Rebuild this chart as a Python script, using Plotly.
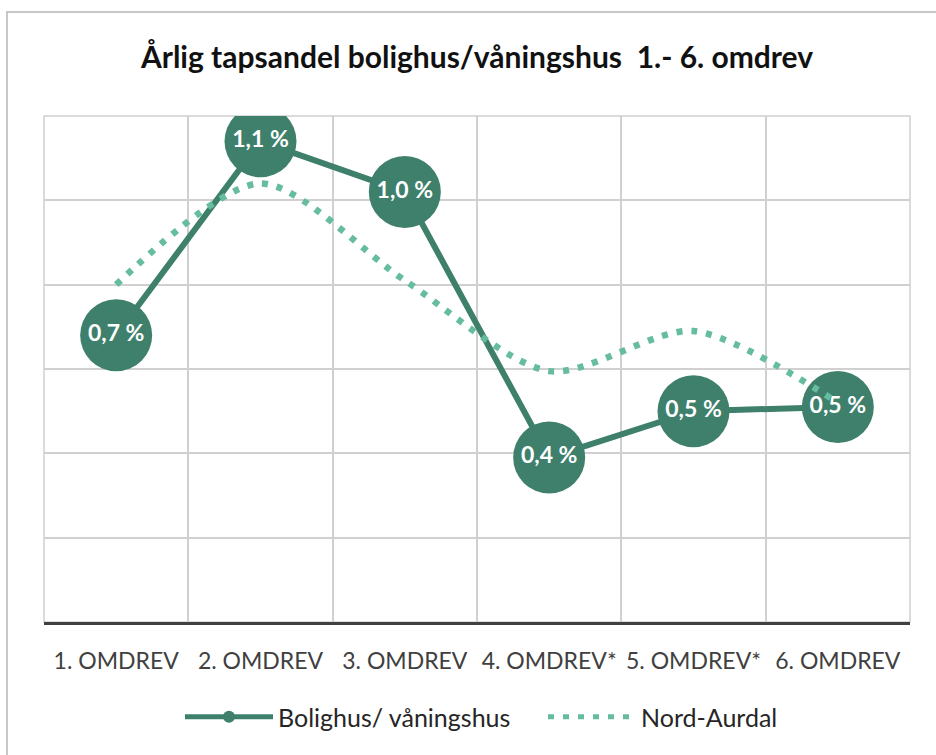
import plotly.graph_objects as go

categories = ["1. OMDREV", "2. OMDREV", "3. OMDREV", "4. OMDREV*", "5. OMDREV*", "6. OMDREV"]
bolighus = [0.68, 1.14, 1.02, 0.39, 0.50, 0.51]
nord_aurdal = [0.80, 1.04, 0.81, 0.595, 0.69, 0.52]
labels = [f"{v:.1f}".replace(".", ",") + " %" for v in bolighus]

MAIN = "#3E806B"
DOT = "#66BC9F"
FONT = "Lato"

fig = go.Figure()
fig.add_trace(go.Scatter(
    x=categories, y=bolighus, name="Bolighus/ våningshus",
    mode="lines+markers+text", text=labels, textposition="middle center",
    textfont=dict(family=FONT, size=23, color="white", weight="bold"),
    line=dict(color=MAIN, width=6),
    marker=dict(size=72, color=MAIN, line=dict(width=0)),
))
fig.add_trace(go.Scatter(
    x=categories, y=nord_aurdal, name="Nord-Aurdal",
    mode="lines", line=dict(color=DOT, width=6.5, dash="6px,9px", shape="spline", smoothing=0.8),
))

W, H = 936, 755
L, R, T, B = 44, 26, 116, 133
pw, ph = W - L - R, H - T - B

def px_x(x):
    return (x - L) / pw

def px_y(y):
    return (H - B - y) / ph

fig.update_layout(
    width=W, height=H,
    margin=dict(l=L, r=R, t=T, b=B, autoexpand=False),
    paper_bgcolor="white", plot_bgcolor="white",
    font=dict(family=FONT, color="#404040"),
    title=dict(text="<b>Årlig tapsandel bolighus/våningshus  1.- 6. omdrev</b>",
               x=0.5, xref="paper", xanchor="center",
               y=1 - 57 / H, yref="container", yanchor="middle",
               font=dict(family=FONT, size=30, color="#111111")),
    showlegend=True,
    legend=dict(orientation="h", x=px_x(180), xanchor="left", y=px_y(717), yanchor="middle",
                font=dict(family=FONT, size=25, color="#262626"),
                itemsizing="constant", itemwidth=88, traceorder="normal",
                entrywidth=260, entrywidthmode="pixels"),
    xaxis=dict(type="category", categoryorder="array", categoryarray=categories,
               range=[-0.5, 5.5], tickson="boundaries", showgrid=True,
               gridcolor="#D0D0D0", gridwidth=1.5, ticks="", ticklabelstandoff=16,
               tickfont=dict(family=FONT, size=23, color="#404040"),
               showline=True, linecolor="#404040", linewidth=3, zeroline=False),
    yaxis=dict(range=[0, 1.2], dtick=0.2, showgrid=True, gridcolor="#D0D0D0",
               gridwidth=1.5, showticklabels=False, ticks="", zeroline=False,
               showline=False),
    shapes=[
        dict(type="rect", xref="paper", yref="paper", x0=0, x1=1, y0=0, y1=1,
             line=dict(color="#D0D0D0", width=1.5), layer="below"),
        dict(type="rect", xref="paper", yref="paper",
             x0=px_x(7), x1=px_x(950), y0=px_y(12), y1=px_y(770),
             line=dict(color="#C8C8C8", width=2), layer="below"),
    ],
)

fig.write_html("out.html", config={"displayModeBar": False},
               post_script="document.body.style.margin='0px';")
